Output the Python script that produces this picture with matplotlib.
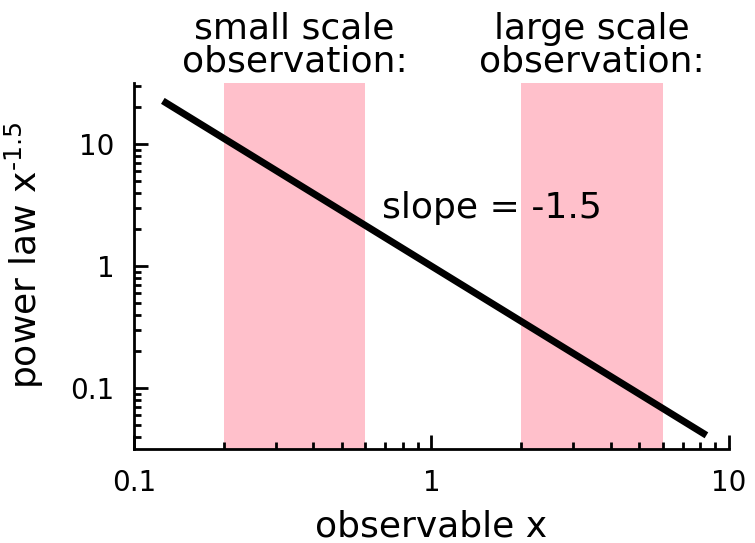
import matplotlib
matplotlib.use("Agg")
import matplotlib.pyplot as plt
from matplotlib.ticker import FixedLocator, FixedFormatter, LogLocator, NullFormatter

line_x = [0.125, 8.4]
line_y = [22.6, 0.041]
span_small = (0.2, 0.6)
span_large = (2.0, 6.0)
xtick_vals = [0.1, 1, 10]
xtick_labels = ["0.1", "1", "10"]
ytick_vals = [0.1, 1, 10]
ytick_labels = ["0.1", "1", "10"]

fig = plt.figure(figsize=(7.55, 5.43), dpi=100)
ax = fig.add_axes([0.1775, 0.173, 0.788, 0.674])
ax.set_xscale("log")
ax.set_yscale("log")
ax.set_xlim(0.1, 10)
ax.set_ylim(10**-1.5, 10**1.5)

ax.axvspan(*span_small, color="pink", lw=0)
ax.axvspan(*span_large, color="pink", lw=0)
ax.plot(line_x, line_y, color="black", lw=5, solid_capstyle="butt")

ax.text((span_small[0]*span_small[1])**0.5, 10**1.54, "small scale\nobservation:",
        ha="center", va="bottom", fontsize=26, linespacing=0.95)
ax.text((span_large[0]*span_large[1])**0.5, 10**1.54, "large scale\nobservation:",
        ha="center", va="bottom", fontsize=26, linespacing=0.95)
ax.text(0.68, 3.0, "slope = -1.5", ha="left", va="center", fontsize=26)

for s in ["top", "right"]:
    ax.spines[s].set_visible(False)
for s in ["left", "bottom"]:
    ax.spines[s].set_linewidth(2)

ax.xaxis.set_major_locator(FixedLocator(xtick_vals))
ax.xaxis.set_major_formatter(FixedFormatter(xtick_labels))
ax.yaxis.set_major_locator(FixedLocator(ytick_vals))
ax.yaxis.set_major_formatter(FixedFormatter(ytick_labels))
ax.xaxis.set_minor_locator(LogLocator(subs=range(2, 10)))
ax.yaxis.set_minor_locator(LogLocator(subs=range(2, 10)))
ax.xaxis.set_minor_formatter(NullFormatter())
ax.yaxis.set_minor_formatter(NullFormatter())
ax.tick_params(which="major", direction="in", length=10, width=2, labelsize=20, pad=14)
ax.tick_params(which="minor", direction="in", length=5, width=2)
ax.tick_params(top=False, right=False, which="both")

ax.set_xlabel("observable x", fontsize=26, labelpad=9)
ax.set_ylabel(r"power law x$^{\mathregular{\text{-}1.5}}$", fontsize=26)
ax.yaxis.set_label_coords(-0.148, 0.53)

fig.savefig("out.png", dpi=100)
